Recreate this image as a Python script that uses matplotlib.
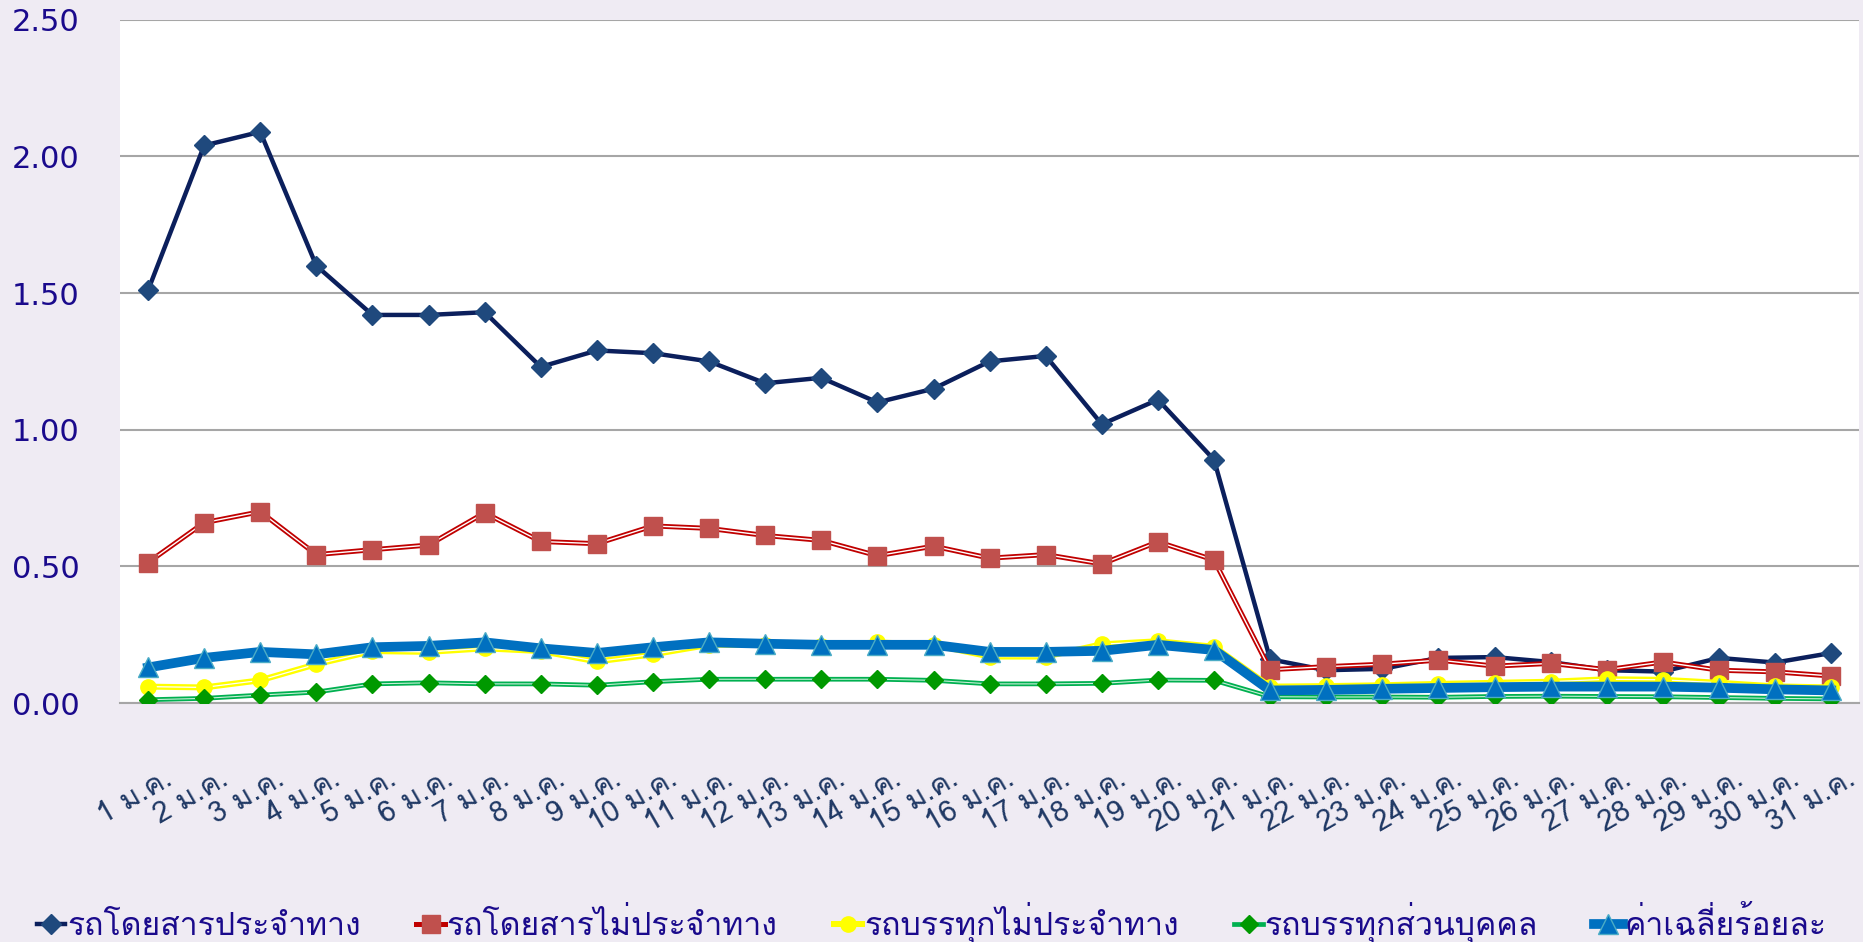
import numpy as np
import matplotlib
matplotlib.use("Agg")
import matplotlib.pyplot as plt
import matplotlib.transforms as mtransforms
from matplotlib.lines import Line2D

days = [f"{d} ม.ค." for d in range(1, 32)]

bus_fixed = [1.51, 2.04, 2.09, 1.60, 1.42, 1.42, 1.43, 1.23, 1.29, 1.28,
             1.25, 1.17, 1.19, 1.10, 1.15, 1.25, 1.27, 1.02, 1.11, 0.89,
             0.16, 0.12, 0.125, 0.165, 0.168, 0.15, 0.12, 0.115, 0.165, 0.148, 0.183]
bus_nonfixed = [0.514, 0.66, 0.70, 0.543, 0.561, 0.578, 0.696, 0.591, 0.583, 0.648,
                0.639, 0.613, 0.595, 0.539, 0.574, 0.530, 0.543, 0.509, 0.59, 0.523,
                0.122, 0.133, 0.142, 0.157, 0.135, 0.145, 0.122, 0.15, 0.12, 0.114, 0.099]
truck_nonfixed = [0.06, 0.057, 0.083, 0.142, 0.19, 0.187, 0.2, 0.19, 0.152, 0.178,
                  0.213, 0.213, 0.209, 0.222, 0.213, 0.17, 0.17, 0.215, 0.226, 0.206,
                  0.06, 0.062, 0.065, 0.07, 0.074, 0.078, 0.087, 0.085, 0.074, 0.061, 0.057]
truck_private = [0.012, 0.017, 0.029, 0.04, 0.07, 0.074, 0.07, 0.07, 0.065, 0.078,
                 0.087, 0.087, 0.087, 0.087, 0.083, 0.07, 0.07, 0.072, 0.084, 0.083,
                 0.023, 0.022, 0.022, 0.021, 0.024, 0.025, 0.024, 0.023, 0.02, 0.017, 0.015]
average = [0.13, 0.165, 0.187, 0.178, 0.204, 0.209, 0.222, 0.2, 0.183, 0.204,
           0.222, 0.217, 0.213, 0.213, 0.213, 0.187, 0.187, 0.191, 0.213, 0.194,
           0.046, 0.048, 0.052, 0.055, 0.058, 0.06, 0.06, 0.06, 0.056, 0.05, 0.046]

labels = ["รถโดยสารประจำทาง", "รถโดยสารไม่ประจำทาง", "รถบรรทุกไม่ประจำทาง",
          "รถบรรทุกส่วนบุคคล", "ค่าเฉลี่ยร้อยละ"]

plt.rcParams['font.family'] = ['Loma', 'DejaVu Sans']

bg = '#EFEBF3'
fig = plt.figure(figsize=(18.63, 9.42), dpi=100, facecolor=bg)
ax = fig.add_axes([0.0644, 0.2537, 0.9336, 0.7253])
ax.set_facecolor('white')

x = np.arange(len(days))

# navy
ax.plot(x, bus_fixed, color='#0B1F5C', lw=3.2, zorder=3)
ax.plot(x, bus_fixed, ls='none', marker='D', ms=10, color='#1F497D', zorder=4)
# red, double line
ax.plot(x, bus_nonfixed, color='#C00000', lw=3.6, zorder=5)
ax.plot(x, bus_nonfixed, color='white', lw=1.0, zorder=5)
ax.plot(x, bus_nonfixed, ls='none', marker='s', ms=13, color='#C0504D', zorder=6)
# yellow
ax.plot(x, truck_nonfixed, color='#FFFF00', lw=4.3, zorder=7)
ax.plot(x, truck_nonfixed, color='white', lw=0.9, zorder=7)
ax.plot(x, truck_nonfixed, ls='none', marker='o', ms=11, color='#FFFF00', zorder=8)
# green
ax.plot(x, truck_private, color='#00B050', lw=3.4, zorder=9)
ax.plot(x, truck_private, color='#C8EFD6', lw=0.8, zorder=9)
ax.plot(x, truck_private, ls='none', marker='D', ms=9, color='#009900', zorder=10)
# average
ax.plot(x, average, color='#0070C0', lw=7, zorder=11)
ax.plot(x, average, ls='none', marker='^', ms=15, color='#0070C0',
        mec='#4BACC6', mew=1, zorder=12)

ax.set_xlim(-0.5, len(days) - 0.5)
ax.set_ylim(0, 2.5)
yt = np.arange(0, 2.51, 0.5)
ax.set_yticks(yt)
ax.set_yticklabels([f"{v:.2f}" for v in yt], fontfamily='DejaVu Sans')
ax.grid(axis='y', color='#A6A6A6', lw=1.5, zorder=0)
ax.set_axisbelow(True)
for s in ['left', 'right', 'top']:
    ax.spines[s].set_visible(False)
ax.spines['bottom'].set_color('#A6A6A6')
ax.spines['bottom'].set_linewidth(1.5)
ax.tick_params(axis='y', length=0, pad=29, labelsize=22, labelcolor='#1A0A8C')
ax.tick_params(axis='x', length=0, pad=44, labelsize=21, labelcolor='#1F3864')
ax.set_xticks(x)
ax.set_xticklabels(days, rotation=30, ha='right', va='top', rotation_mode='anchor')
shift = mtransforms.ScaledTranslation(0.15, 0, fig.dpi_scale_trans)
for t in ax.get_xticklabels():
    t.set_transform(t.get_transform() + shift)

handles = [
    Line2D([], [], color='#0B1F5C', lw=3.2, marker='D', ms=10, mfc='#1F497D', mec='#1F497D'),
    Line2D([], [], color='#C00000', lw=3.6, marker='s', ms=13, mfc='#C0504D', mec='#C0504D'),
    Line2D([], [], color='#FFFF00', lw=4.3, marker='o', ms=11, mfc='#FFFF00', mec='#FFFF00'),
    Line2D([], [], color='#00B050', lw=3.4, marker='D', ms=9, mfc='#009900', mec='#009900'),
    Line2D([], [], color='#0070C0', lw=7, marker='^', ms=15, mfc='#0070C0', mec='#4BACC6'),
]
fig.legend(handles, labels, loc='lower center', bbox_to_anchor=(0.5, -0.032), ncol=5,
           frameon=False, fontsize=23, handlelength=0.9, handletextpad=0.05,
           columnspacing=1.75, labelcolor='#1A0A8C')

fig.savefig('out.png', dpi=100, facecolor=bg)
